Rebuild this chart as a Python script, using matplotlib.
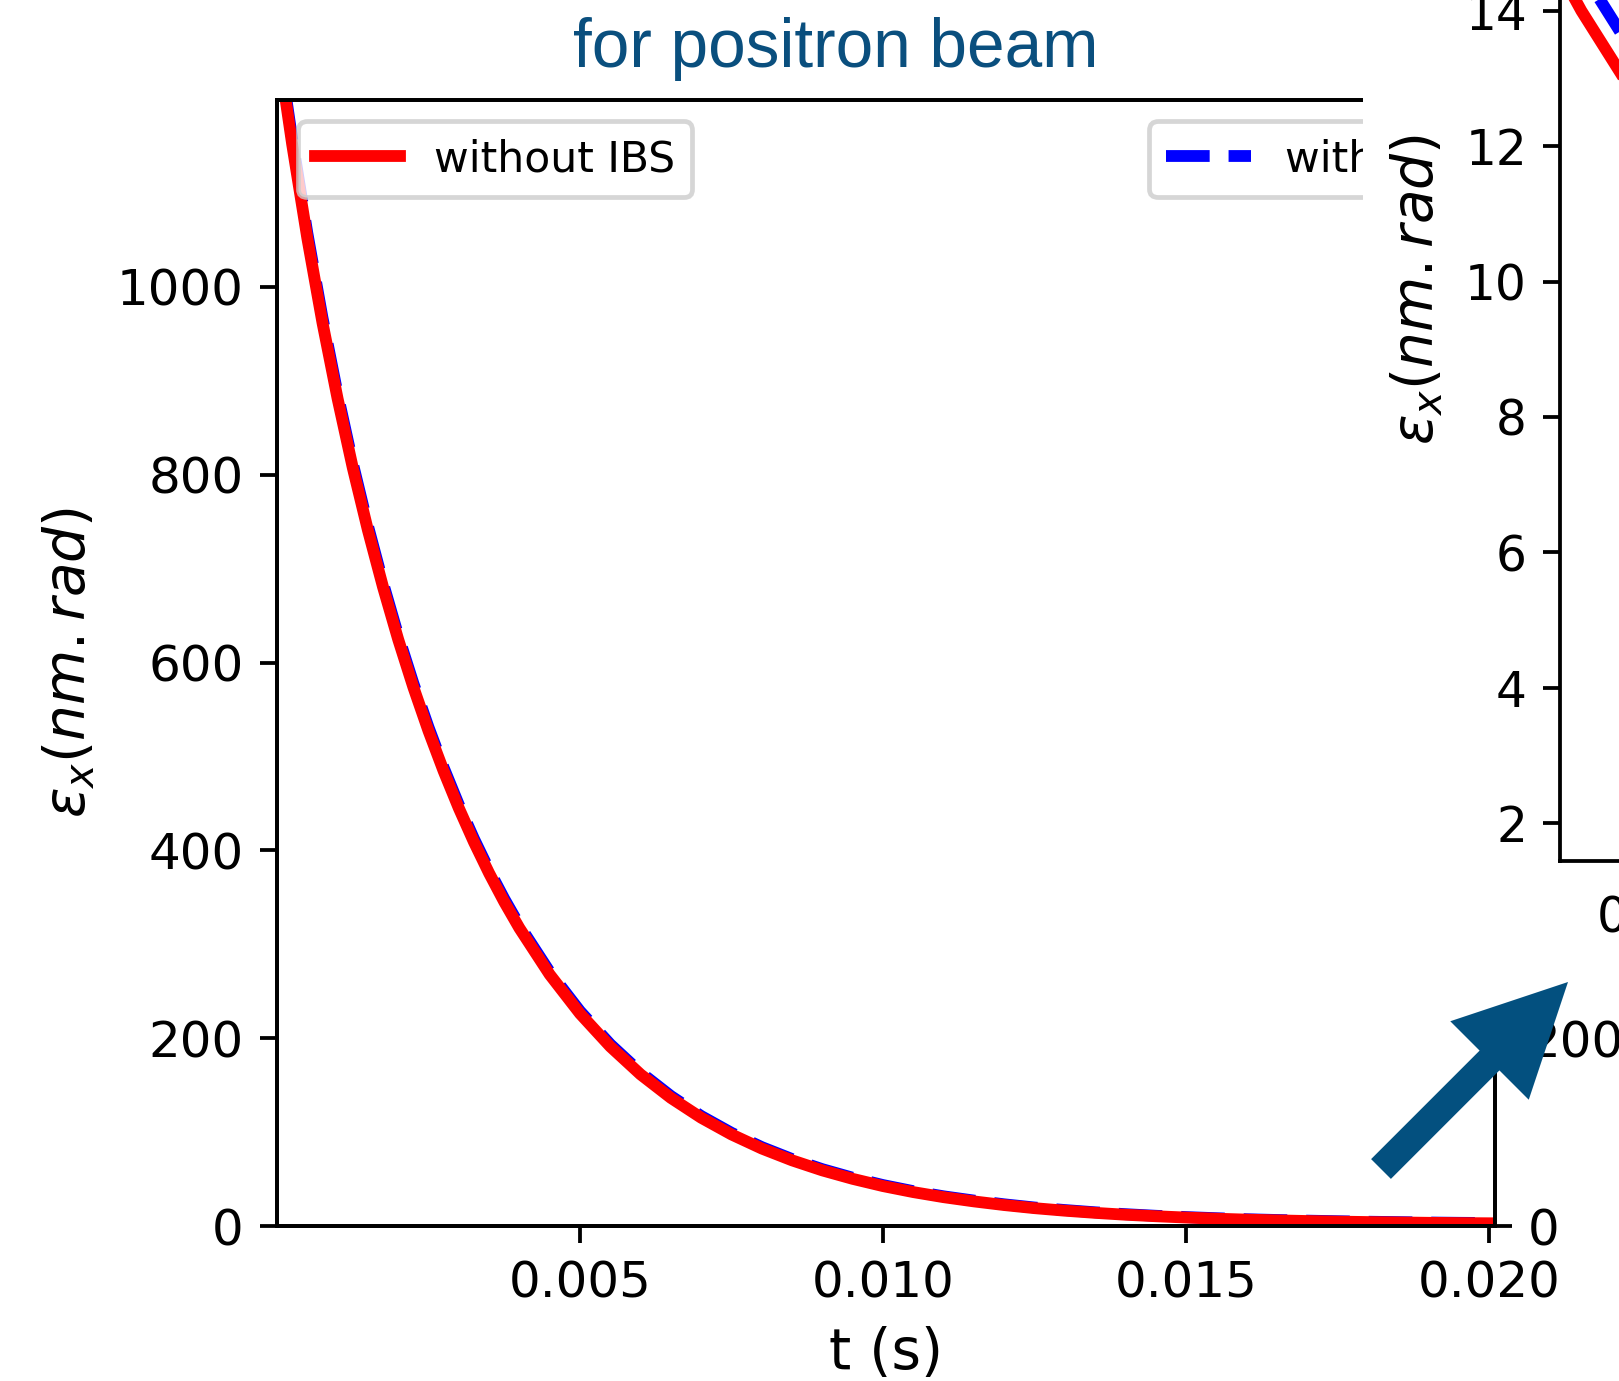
"""
Horizontal emittance damping of the positron beam, with and without IBS,
with a zoomed panel on the tail of the curves.
"""
import matplotlib
matplotlib.use("Agg")
import matplotlib.pyplot as plt
from matplotlib.patches import Rectangle, FancyArrow

C = {"no_ibs": "red", "ibs": "blue", "title": "#0a4f7e", "arrow": "#03507f", "bg": "#FFFFFF"}

# time (s)
t = [0.0, 0.00025, 0.0005, 0.00075, 0.001, 0.00125, 0.0015, 0.00175, 0.002,
     0.00225, 0.0025, 0.00275, 0.003, 0.00325, 0.0035, 0.00375, 0.004,
     0.0045, 0.005, 0.0055, 0.006, 0.0065, 0.007, 0.0075, 0.008, 0.0085,
     0.009, 0.0095, 0.010, 0.0105, 0.011, 0.0115, 0.012, 0.0125, 0.013,
     0.0135, 0.014, 0.0145, 0.015, 0.0155, 0.016, 0.0165, 0.017, 0.0175,
     0.018, 0.0185, 0.019, 0.0195, 0.020, 0.0205]

# horizontal emittance (nm.rad)
eps_no_ibs = [1262.0, 1152.0, 1052.0, 962.0, 881.0, 807.5, 741.0, 680.3, 624.6,
              573.8, 527.2, 484.4, 445.0, 408.9, 375.7, 345.2, 317.2,
              267.8, 226.2, 191.1, 161.4, 136.4, 115.3, 97.5, 82.5, 69.9,
              59.2, 50.2, 42.5, 36.1, 30.7, 26.2, 22.3, 19.0, 16.3,
              14.0, 12.0, 10.4, 9.0, 7.8, 6.8, 6.0, 5.3, 4.7,
              4.2, 3.8, 3.4, 3.1, 2.9, 2.7]
eps_ibs = [1268.0, 1157.8, 1057.5, 967.3, 886.0, 812.3, 745.6, 684.7, 628.8,
           577.9, 531.1, 488.1, 448.6, 412.3, 379.0, 348.4, 320.2,
           270.6, 228.8, 193.5, 163.6, 138.4, 117.1, 99.2, 84.0, 71.3,
           60.5, 51.4, 43.6, 37.1, 31.6, 27.1, 23.1, 19.7, 17.0,
           14.6, 12.6, 10.9, 9.5, 8.3, 7.2, 6.4, 5.7, 5.1,
           4.55, 4.13, 3.71, 3.40, 3.19, 2.98]

x_ticks = [0.005, 0.010, 0.015, 0.020]
y_ticks = [0, 200, 400, 600, 800, 1000]
zoom_x_ticks = [0.014, 0.016, 0.018, 0.020]
zoom_y_ticks = [2, 4, 6, 8, 10, 12, 14]

W, H, DPI = 1619, 1381, 340
fig = plt.figure(figsize=(W / DPI, H / DPI), dpi=DPI)
fig.patch.set_facecolor(C["bg"])

# ── Main panel ──
ax = fig.add_axes([277 / W, 1 - 1226 / H, 1218 / W, 1126 / H])
h_ibs, = ax.plot(t, eps_ibs, "--", color=C["ibs"], lw=2.5, label="with IBS")
h_no, = ax.plot(t, eps_no_ibs, "-", color=C["no_ibs"], lw=2.5, label="without IBS")
ax.set_xlim(0, 0.0201)
ax.set_ylim(0, 1199)
ax.set_xticks(x_ticks)
ax.set_yticks(y_ticks)
ax.tick_params(labelsize=10.6)
ax.set_xlabel("t (s)", fontsize=12)
ax.set_ylabel(r"$\varepsilon_x(nm.rad)$", fontsize=12)

leg = ax.legend(handles=[h_no], loc="upper left", fontsize=9)
ax.add_artist(leg)
ax.legend(handles=[h_ibs], loc="upper right", fontsize=9)

ax2 = ax.twinx()
ax2.set_ylim(ax.get_ylim())
ax2.set_yticks(y_ticks)
ax2.tick_params(labelsize=10.6)

fig.text(836 / W, 1 - 49 / H, "for positron beam", ha="center", va="center",
         fontsize=14.3, color=C["title"], family="Liberation Sans")

# ── Zoomed tail, on its own white panel ──
fig.add_artist(Rectangle((1363 / W, 1 - 1015 / H), 1, 1015 / H, transform=fig.transFigure,
                         facecolor="white", edgecolor="none", zorder=2))

axz = fig.add_axes([1560 / W, 1 - 861 / H, 1216 / W, 1142 / H], zorder=3)
axz.plot(t, eps_ibs, "--", color=C["ibs"], lw=2.5)
axz.plot(t, eps_no_ibs, "-", color=C["no_ibs"], lw=2.5)
axz.set_xlim(0.013375, 0.0205)
axz.set_ylim(1.44, 18.31)
axz.set_xticks(zoom_x_ticks)
axz.set_yticks(zoom_y_ticks)
axz.tick_params(labelsize=10.3)
axz.set_ylabel(r"$\varepsilon_x(nm.rad)$", fontsize=12)

fig.add_artist(FancyArrow(1381 / DPI, (H - 1169) / DPI, 187 / DPI, 187 / DPI,
                          width=28 / DPI, head_width=111 / DPI, head_length=111 / DPI,
                          length_includes_head=True, color=C["arrow"], lw=0,
                          transform=fig.dpi_scale_trans, zorder=4))

fig.savefig("out.png", dpi=DPI, facecolor=C["bg"])
